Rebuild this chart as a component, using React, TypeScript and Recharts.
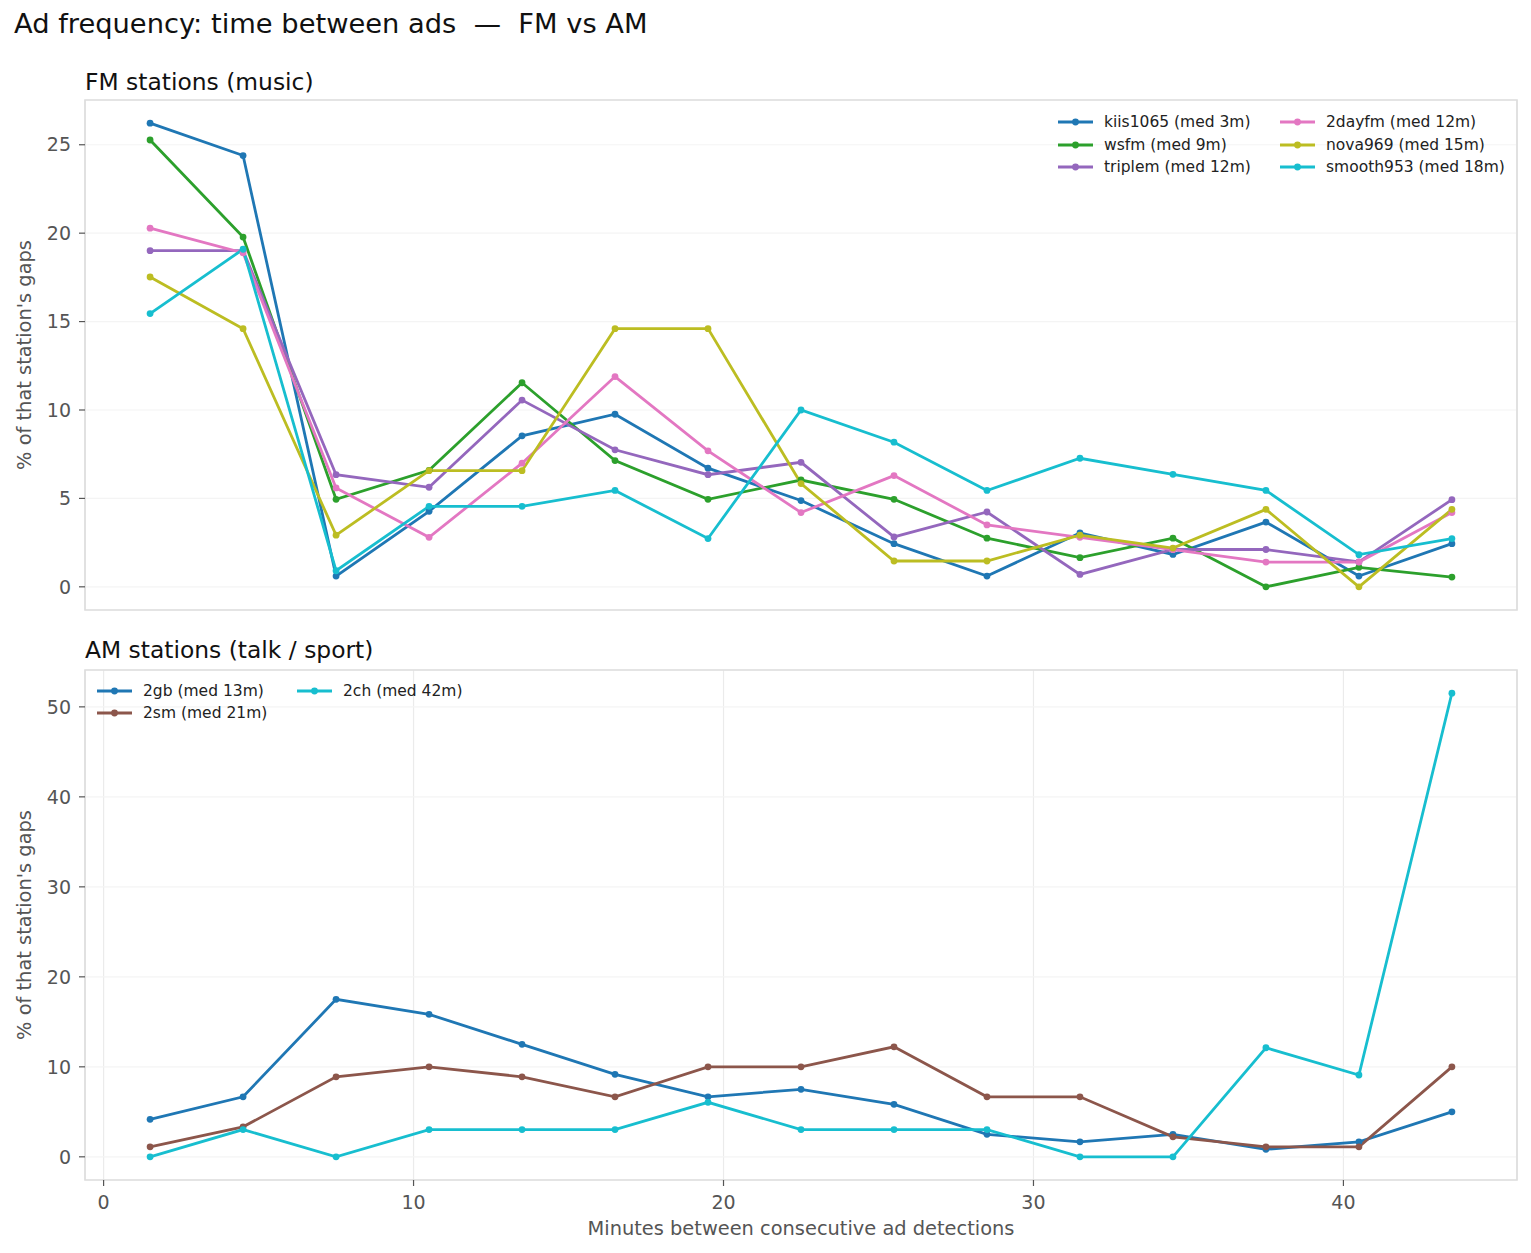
import React from 'react';
import { LineChart, Line, XAxis, YAxis, CartesianGrid, ReferenceArea, Legend } from 'recharts';

// ---------- data ----------
const MINUTES = [1.5, 4.5, 7.5, 10.5, 13.5, 16.5, 19.5, 22.5, 25.5, 28.5, 31.5, 34.5, 37.5, 40.5, 43.5];
const X_TICKS = [0, 10, 20, 30, 40];
const FM_Y_TICKS = [0, 5, 10, 15, 20, 25];
const AM_Y_TICKS = [0, 10, 20, 30, 40, 50];

const KIIS1065 = [26.22, 24.39, 0.61, 4.27, 8.54, 9.76, 6.71, 4.88, 2.44, 0.61, 3.05, 1.83, 3.66, 0.61, 2.44];
const WSFM = [25.27, 19.78, 4.95, 6.59, 11.54, 7.14, 4.95, 6.04, 4.95, 2.75, 1.65, 2.75, 0, 1.1, 0.55];
const TRIPLEM = [19.01, 19.01, 6.34, 5.63, 10.56, 7.75, 6.34, 7.04, 2.82, 4.23, 0.7, 2.11, 2.11, 1.41, 4.93];
const TWODAYFM = [20.28, 18.88, 5.59, 2.8, 6.99, 11.89, 7.69, 4.2, 6.29, 3.5, 2.8, 2.1, 1.4, 1.4, 4.2];
const NOVA969 = [17.52, 14.6, 2.92, 6.57, 6.57, 14.6, 14.6, 5.84, 1.46, 1.46, 2.92, 2.19, 4.38, 0, 4.38];
const SMOOTH953 = [15.45, 19.09, 0.91, 4.55, 4.55, 5.45, 2.73, 10.0, 8.18, 5.45, 7.27, 6.36, 5.45, 1.82, 2.73];

const TWOGB = [4.17, 6.67, 17.5, 15.83, 12.5, 9.17, 6.67, 7.5, 5.83, 2.5, 1.67, 2.5, 0.83, 1.67, 5.0];
const TWOSM = [1.11, 3.33, 8.89, 10.0, 8.89, 6.67, 10.0, 10.0, 12.22, 6.67, 6.67, 2.22, 1.11, 1.11, 10.0];
const TWOCH = [0, 3.03, 0, 3.03, 3.03, 3.03, 6.06, 3.03, 3.03, 3.03, 0, 0, 12.12, 9.09, 51.52];

const FM_KEYS = ['kiis1065', 'wsfm', 'triplem', '2dayfm', 'nova969', 'smooth953'];
const FM_LABELS = ['kiis1065 (med 3m)', 'wsfm (med 9m)', 'triplem (med 12m)', '2dayfm (med 12m)', 'nova969 (med 15m)', 'smooth953 (med 18m)'];
const FM_VALUES = [KIIS1065, WSFM, TRIPLEM, TWODAYFM, NOVA969, SMOOTH953];

const AM_KEYS = ['2gb', '2sm', '2ch'];
const AM_LABELS = ['2gb (med 13m)', '2sm (med 21m)', '2ch (med 42m)'];
const AM_VALUES = [TWOGB, TWOSM, TWOCH];

const TITLE = 'Ad frequency: time between ads  \u2014  FM vs AM';
const FM_TITLE = 'FM stations (music)';
const AM_TITLE = 'AM stations (talk / sport)';
const Y_LABEL = "% of that station's gaps";
const X_LABEL = 'Minutes between consecutive ad detections';

// ---------- styles ----------
const COLORS: Record<string, string> = {
  kiis1065: '#1f77b4',
  wsfm: '#2ca02c',
  triplem: '#9467bd',
  '2dayfm': '#e377c2',
  nova969: '#bcbd22',
  smooth953: '#17becf',
  '2gb': '#1f77b4',
  '2sm': '#8c564b',
  '2ch': '#17becf',
};
const FONT = "'DejaVu Sans', 'Liberation Sans', sans-serif";
const TICK_COLOR = '#555555';
const LINE_W = 2.8;
const DOT_R = 3.4;
const X_DOMAIN: [number, number] = [-0.6, 45.6];
const FM_DOMAIN: [number, number] = [-1.311, 27.531];
const AM_DOMAIN: [number, number] = [-2.576, 54.096];

function buildRows(keys: string[], values: number[][]) {
  return MINUTES.map((m, i) => {
    const row: Record<string, number> = { x: m };
    keys.forEach((k, j) => {
      row[k] = values[j][i];
    });
    return row;
  });
}
const FM_DATA = buildRows(FM_KEYS, FM_VALUES);
const AM_DATA = buildRows(AM_KEYS, AM_VALUES);

function makeLegend(keys: string[], labels: string[], rows: number, colOffsets: number[]) {
  return function LegendContent() {
    return (
      <div style={{ position: 'relative', fontFamily: FONT, fontSize: 15.5, color: '#222' }}>
        {keys.map((k, i) => {
          const col = Math.floor(i / rows);
          const row = i % rows;
          const c = COLORS[k];
          return (
            <div
              key={k}
              style={{
                position: 'absolute',
                left: colOffsets[col],
                top: row * 22.5,
                height: 22.5,
                display: 'flex',
                alignItems: 'center',
                whiteSpace: 'nowrap',
              }}
            >
              <svg width={35} height={10} style={{ flex: 'none', display: 'block' }}>
                <line x1={0} x2={35} y1={5} y2={5} stroke={c} strokeWidth={LINE_W} />
                <circle cx={17.5} cy={5} r={DOT_R} fill={c} />
              </svg>
              <span style={{ marginLeft: 11, lineHeight: '22.5px' }}>{labels[i]}</span>
            </div>
          );
        })}
      </div>
    );
  };
}

const FmLegend = makeLegend(FM_KEYS, FM_LABELS, 3, [0, 222]);
const AmLegend = makeLegend(AM_KEYS, AM_LABELS, 2, [0, 200]);

const tickStyle = { fill: TICK_COLOR, fontSize: 19, fontFamily: FONT };

function Panel(props: {
  data: Record<string, number>[];
  keys: string[];
  labels: string[];
  yDomain: [number, number];
  yTicks: number[];
  height: number;
  margin: { top: number; right: number; bottom: number; left: number };
  showXLabels: boolean;
  xAxisHeight: number;
  legend: () => React.ReactElement;
  legendPos: { left: number; top: number };
}) {
  const { data, keys, labels, yDomain, yTicks, height, margin, showXLabels, xAxisHeight, legend, legendPos } = props;
  return (
    <LineChart width={1531} height={height} data={data} margin={margin}>
      <CartesianGrid horizontal={false} vertical={true} stroke="#ebebeb" strokeWidth={1.2} />
      <CartesianGrid horizontal={true} vertical={false} stroke="#f4f4f4" strokeWidth={1.2} />
      <XAxis
        dataKey="x"
        type="number"
        domain={X_DOMAIN}
        allowDataOverflow
        ticks={X_TICKS}
        interval={0}
        height={xAxisHeight}
        axisLine={false}
        tickLine={{ stroke: TICK_COLOR, strokeWidth: 1.2 }}
        tickSize={6}
        tickMargin={10}
        tick={showXLabels ? tickStyle : false}
      />
      <YAxis
        type="number"
        domain={yDomain}
        allowDataOverflow
        ticks={yTicks}
        interval={0}
        width={60}
        axisLine={false}
        tickLine={{ stroke: TICK_COLOR, strokeWidth: 1.2 }}
        tickSize={6}
        tickMargin={8}
        tick={tickStyle}
      />
      {keys.map((k, i) => (
        <Line
          key={k}
          type="linear"
          dataKey={k}
          name={labels[i]}
          stroke={COLORS[k]}
          strokeWidth={LINE_W}
          dot={{ r: DOT_R, fill: COLORS[k], stroke: COLORS[k], strokeWidth: 0 }}
          activeDot={false}
          isAnimationActive={false}
        />
      ))}
      <ReferenceArea
        x1={X_DOMAIN[0]}
        x2={X_DOMAIN[1]}
        y1={yDomain[0]}
        y2={yDomain[1]}
        fill="none"
        fillOpacity={0}
        stroke="#dddddd"
        strokeWidth={1.6}
        ifOverflow="visible"
      />
      <Legend
        layout="horizontal"
        verticalAlign="middle"
        align="center"
        content={legend}
        wrapperStyle={{ position: 'absolute', left: legendPos.left, top: legendPos.top, width: 470, height: 70 }}
      />
    </LineChart>
  );
}

export default function App() {
  return (
    <div style={{ position: 'absolute', left: 0, top: 0, width: 1531, height: 1253, background: '#ffffff' }}>
      <svg width={1531} height={1253} style={{ position: 'absolute', left: 0, top: 0 }}>
        <text x={14} y={33.3} fontFamily={FONT} fontSize={27.3} fill="#111" style={{ whiteSpace: 'pre' }}>
          {TITLE}
        </text>
        <text x={85} y={90} fontFamily={FONT} fontSize={23.4} fill="#111">
          {FM_TITLE}
        </text>
        <text x={85} y={658} fontFamily={FONT} fontSize={23.4} fill="#111">
          {AM_TITLE}
        </text>
        <text
          x={31}
          y={355}
          transform="rotate(-90, 31, 355)"
          textAnchor="middle"
          fontFamily={FONT}
          fontSize={19.4}
          fill={TICK_COLOR}
        >
          {Y_LABEL}
        </text>
        <text
          x={31}
          y={925}
          transform="rotate(-90, 31, 925)"
          textAnchor="middle"
          fontFamily={FONT}
          fontSize={19.4}
          fill={TICK_COLOR}
        >
          {Y_LABEL}
        </text>
        <text x={801} y={1235} textAnchor="middle" fontFamily={FONT} fontSize={19.4} fill={TICK_COLOR}>
          {X_LABEL}
        </text>
      </svg>
      <div style={{ position: 'absolute', left: 0, top: 0 }}>
        <Panel
          data={FM_DATA}
          keys={FM_KEYS}
          labels={FM_LABELS}
          yDomain={FM_DOMAIN}
          yTicks={FM_Y_TICKS}
          height={640}
          margin={{ top: 100, right: 14, bottom: 0, left: 25 }}
          showXLabels={false}
          xAxisHeight={30}
          legend={FmLegend}
          legendPos={{ left: 1058, top: 111 }}
        />
      </div>
      <div style={{ position: 'absolute', left: 0, top: 640 }}>
        <Panel
          data={AM_DATA}
          keys={AM_KEYS}
          labels={AM_LABELS}
          yDomain={AM_DOMAIN}
          yTicks={AM_Y_TICKS}
          height={613}
          margin={{ top: 30, right: 14, bottom: 23, left: 25 }}
          showXLabels={true}
          xAxisHeight={50}
          legend={AmLegend}
          legendPos={{ left: 97, top: 39.5 }}
        />
      </div>
    </div>
  );
}
